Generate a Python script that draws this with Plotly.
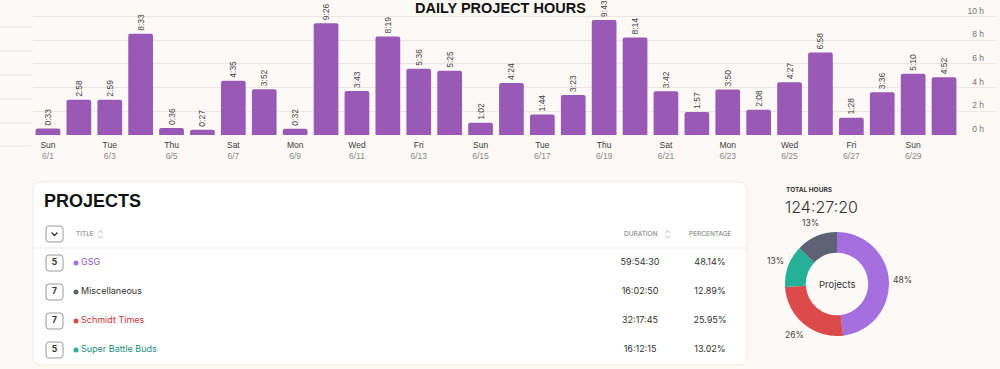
import plotly.graph_objects as go
import math

W, H = 1000, 369

# ---------------- data ----------------
dates = ["6/1", "6/2", "6/3", "6/4", "6/5", "6/6", "6/7", "6/8", "6/9", "6/10",
         "6/11", "6/12", "6/13", "6/14", "6/15", "6/16", "6/17", "6/18", "6/19", "6/20",
         "6/21", "6/22", "6/23", "6/24", "6/25", "6/26", "6/27", "6/28", "6/29", "6/30"]
daily_durations = ["0:33", "2:58", "2:59", "8:33", "0:36", "0:27", "4:35", "3:52", "0:32", "9:26",
                   "3:43", "8:19", "5:36", "5:25", "1:02", "4:24", "1:44", "3:23", "9:43", "8:14",
                   "3:42", "1:57", "3:50", "2:08", "4:27", "6:58", "1:28", "3:36", "5:10", "4:52"]
tick_dates = ["6/1", "6/3", "6/5", "6/7", "6/9", "6/11", "6/13", "6/15",
              "6/17", "6/19", "6/21", "6/23", "6/25", "6/27", "6/29"]
tick_days = ["Sun", "Tue", "Thu", "Sat", "Mon", "Wed", "Fri", "Sun",
             "Tue", "Thu", "Sat", "Mon", "Wed", "Fri", "Sun"]
y_ticks = [0, 2, 4, 6, 8, 10]

projects = ["GSG", "Miscellaneous", "Schmidt Times", "Super Battle Buds"]
project_counts = [5, 7, 7, 5]
project_durations = ["59:54:30", "16:02:50", "32:17:45", "16:12:15"]
project_percentages = ["48.14%", "12.89%", "25.95%", "13.02%"]
project_colors = ["#a66fe0", "#5d6275", "#dc4a4a", "#27b098"]
project_text_colors = ["#8a55d0", "#333333", "#c8333a", "#1d8f7c"]
donut_order = ["GSG", "Schmidt Times", "Super Battle Buds", "Miscellaneous"]
total_hours = "124:27:20"

BAR_COLOR = "#9b59b6"
BG = "#fcf9f7"


def hm_to_hours(s):
    h, m = s.split(":")
    return int(h) + int(m) / 60


def hms_to_sec(s):
    h, m, sec = s.split(":")
    return int(h) * 3600 + int(m) * 60 + int(sec)


def px(x):
    return x / W


def py(y):
    return 1 - y / H


def rrect(x0, y0, x1, y1, r):
    pts = [
        f"M {px(x0 + r)} {py(y0)}",
        f"L {px(x1 - r)} {py(y0)}",
        f"Q {px(x1)} {py(y0)} {px(x1)} {py(y0 + r)}",
        f"L {px(x1)} {py(y1 - r)}",
        f"Q {px(x1)} {py(y1)} {px(x1 - r)} {py(y1)}",
        f"L {px(x0 + r)} {py(y1)}",
        f"Q {px(x0)} {py(y1)} {px(x0)} {py(y1 - r)}",
        f"L {px(x0)} {py(y0 + r)}",
        f"Q {px(x0)} {py(y0)} {px(x0 + r)} {py(y0)}",
        "Z",
    ]
    return " ".join(pts)


def ann(x, y, text, size, color, family, xanchor="center", weight=None):
    f = dict(size=size, color=color, family=family)
    if weight is not None:
        f["weight"] = weight
    return dict(x=px(x), y=py(y), xref="paper", yref="paper", text=text, showarrow=False,
                xanchor=xanchor, yanchor="middle", font=f)


hours = [hm_to_hours(d) for d in daily_durations]
tick_text = [f"<span style='color:#3a3a3a'>{d}</span><br><span style='color:#8a8a8a'>{t}</span>"
             for d, t in zip(tick_days, tick_dates)]

CHART_FONT = "Liberation Sans, Arial, sans-serif"
UI_FONT = "Inter, Roboto, sans-serif"

fig = go.Figure()

# ---------------- bar chart ----------------
fig.add_trace(go.Bar(
    x=dates, y=hours, text=daily_durations, texttemplate="%{text}",
    textposition="outside", textangle=-90, constraintext="none", cliponaxis=False,
    textfont=dict(size=8.5, color="#444444", family=CHART_FONT),
    marker=dict(color=BAR_COLOR, line=dict(width=0), cornerradius=2),
    xaxis="x", yaxis="y", hoverinfo="skip",
))

# ---------------- table (row axis) ----------------
rows = list(range(len(projects)))
fig.add_trace(go.Scatter(
    x=[76] * len(projects), y=rows, mode="markers",
    marker=dict(color=project_colors, size=5), xaxis="x3", yaxis="y3", hoverinfo="skip"))
fig.add_trace(go.Scatter(
    x=[81] * len(projects), y=rows, mode="text", text=projects, textposition="middle right",
    textfont=dict(color=project_text_colors, size=9, family=UI_FONT), xaxis="x3", yaxis="y3",
    hoverinfo="skip"))
fig.add_trace(go.Scatter(
    x=[54.5] * len(projects), y=rows, mode="text", text=[f"<b>{c}</b>" for c in project_counts],
    textposition="middle center", textfont=dict(color="#333333", size=8.5, family=UI_FONT),
    xaxis="x3", yaxis="y3", hoverinfo="skip"))
fig.add_trace(go.Scatter(
    x=[640] * len(projects), y=rows, mode="text", text=project_durations,
    textposition="middle center", textfont=dict(color="#333333", size=9, family=UI_FONT),
    xaxis="x3", yaxis="y3", hoverinfo="skip"))
fig.add_trace(go.Scatter(
    x=[710] * len(projects), y=rows, mode="text", text=project_percentages,
    textposition="middle center", textfont=dict(color="#333333", size=9, family=UI_FONT),
    xaxis="x3", yaxis="y3", hoverinfo="skip"))

# ---------------- donut ----------------
donut_idx = [projects.index(p) for p in donut_order]
donut_vals = [hms_to_sec(project_durations[i]) for i in donut_idx]
donut_cols = [project_colors[i] for i in donut_idx]
cx, cy, R = 837, 284, 52
fig.add_trace(go.Pie(
    values=donut_vals, labels=donut_order, sort=False, direction="clockwise", rotation=0,
    hole=0.6, textinfo="none", marker=dict(colors=donut_cols, line=dict(width=0)),
    domain=dict(x=[px(cx - R), px(cx + R)], y=[py(cy + R), py(cy - R)]),
    hoverinfo="skip", showlegend=False,
))

annotations = []
total = sum(donut_vals)
start = 0.0
for v in donut_vals:
    frac = v / total
    mid = (start + frac / 2) * 2 * math.pi
    lx = cx + 66 * math.sin(mid)
    ly = cy - 66 * math.cos(mid)
    annotations.append(ann(lx, ly, f"{round(frac * 100)}%", 8.5, "#444444", UI_FONT))
    start += frac

annotations.append(ann(cx, cy, "Projects", 9.5, "#333333", UI_FONT))
annotations.append(ann(784, 190, "<b>TOTAL HOURS</b>", 6.5, "#333333", UI_FONT, xanchor="left"))
annotations.append(ann(783, 207, total_hours, 16, "#333333", UI_FONT, xanchor="left", weight=300))

# title
annotations.append(ann(500, 8, "<b>DAILY PROJECT HOURS</b>", 14.5, "#111111", CHART_FONT))

# table headings
annotations.append(ann(42, 201, "<b>PROJECTS</b>", 18, "#111111", CHART_FONT, xanchor="left"))
for txt, x in [("TITLE", 74), ("DURATION", 622), ("PERCENTAGE", 687)]:
    annotations.append(ann(x, 234.5, txt, 6.5, "#777777", UI_FONT, xanchor="left"))

shapes = []
for yy in [27, 51, 75, 99, 123, 146]:
    shapes.append(dict(type="line", xref="paper", yref="paper", x0=0, x1=px(31), y0=py(yy), y1=py(yy),
                       line=dict(color="#ebe5e0", width=1), layer="below"))
shapes.append(dict(type="path", xref="paper", yref="paper", path=rrect(33, 182, 747, 365, 8),
                   fillcolor="#ffffff", line=dict(color="#efe9e4", width=1), layer="below"))
shapes.append(dict(type="line", xref="paper", yref="paper", x0=px(33), x1=px(747), y0=py(248), y1=py(248),
                   line=dict(color="#eeeae6", width=1), layer="below"))
shapes.append(dict(type="path", xref="paper", yref="paper", path=rrect(46, 226, 63, 242, 3),
                   fillcolor="#ffffff", line=dict(color="#9a9a9a", width=1)))
shapes.append(dict(type="path", xref="paper", yref="paper",
                   path=f"M {px(51.5)} {py(232.5)} L {px(54.5)} {py(235.5)} L {px(57.5)} {py(232.5)}",
                   line=dict(color="#333333", width=1.3)))
for sx in [100.5, 667.5]:
    shapes.append(dict(type="path", xref="paper", yref="paper",
                       path=f"M {px(sx - 2)} {py(233)} L {px(sx)} {py(230.5)} L {px(sx + 2)} {py(233)}",
                       line=dict(color="#aaaaaa", width=0.8)))
    shapes.append(dict(type="path", xref="paper", yref="paper",
                       path=f"M {px(sx - 2)} {py(236)} L {px(sx)} {py(238.5)} L {px(sx + 2)} {py(236)}",
                       line=dict(color="#aaaaaa", width=0.8)))
ROW_PX = 29.0
for r in rows:
    x0, x1 = 46, 63
    y0, y1 = r - 8 / ROW_PX, r + 8 / ROW_PX
    rx, ry = 3, 3 / ROW_PX
    path = (f"M {x0 + rx} {y0} L {x1 - rx} {y0} Q {x1} {y0} {x1} {y0 + ry} "
            f"L {x1} {y1 - ry} Q {x1} {y1} {x1 - rx} {y1} L {x0 + rx} {y1} "
            f"Q {x0} {y1} {x0} {y1 - ry} L {x0} {y0 + ry} Q {x0} {y0} {x0 + rx} {y0} Z")
    shapes.append(dict(type="path", xref="x3", yref="y3", path=path, fillcolor="#ffffff",
                       line=dict(color="#9a9a9a", width=1), layer="below"))

bar_left, bar_right = 32.5, 959.5
step = (bar_right - bar_left) / len(dates)
x_end = 995
x_range_max = len(dates) - 0.5 + (x_end - bar_right) / step

fig.update_layout(
    width=W, height=H, autosize=False,
    margin=dict(l=0, r=0, t=0, b=0),
    paper_bgcolor=BG, plot_bgcolor="rgba(0,0,0,0)",
    showlegend=False, bargap=0.2,
    font=dict(family=CHART_FONT),
    xaxis=dict(domain=[px(bar_left), px(x_end)], type="category", categoryorder="array",
               categoryarray=dates, range=[-0.5, x_range_max], tickmode="array",
               tickvals=tick_dates, ticktext=tick_text, showgrid=False, zeroline=False,
               showline=False, ticks="", ticklabelstandoff=3,
               tickfont=dict(size=8.5, family=CHART_FONT),
               anchor="y", fixedrange=True),
    yaxis=dict(domain=[py(135), 1], range=[0, 11.4], side="right", tickmode="array",
               tickvals=y_ticks, ticktext=[f"{v} h" for v in y_ticks],
               ticklabelposition="inside top", ticklabelstandoff=8,
               gridcolor="#ece6e1", gridwidth=1,
               zeroline=False, showline=False, ticks="",
               tickfont=dict(size=8.5, color="#777777", family=CHART_FONT),
               anchor="x", fixedrange=True),
    xaxis3=dict(domain=[px(33), px(747)], range=[33, 747], visible=False, anchor="y3", fixedrange=True),
    yaxis3=dict(domain=[py(365), py(182)], range=[(365 - 263) / ROW_PX, (182 - 263) / ROW_PX],
                visible=False, anchor="x3", fixedrange=True),
    annotations=annotations,
    shapes=shapes,
)

fig.write_html("out.html", config={"displayModeBar": False},
               post_script="document.body.style.margin='0';document.body.style.background='%s';" % BG)
